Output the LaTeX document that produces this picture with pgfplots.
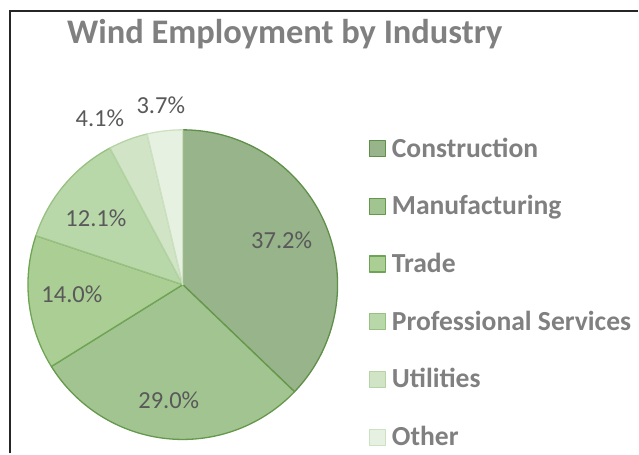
\documentclass[border=0pt]{standalone}
\usepackage{fontspec}
\setmainfont{Carlito}
\usepackage{pgfplots}
\pgfplotsset{compat=1.18}
\definecolor{fCon}{HTML}{97B48A}
\definecolor{fMan}{HTML}{A2C491}
\definecolor{fTra}{HTML}{AACE94}
\definecolor{fPro}{HTML}{B9D8AA}
\definecolor{fUti}{HTML}{D1E5C6}
\definecolor{fOth}{HTML}{E7F1E1}
\definecolor{eCon}{HTML}{5F8F48}
\definecolor{eMan}{HTML}{66984C}
\definecolor{eTra}{HTML}{6FA454}
\definecolor{ePro}{HTML}{98C080}
\definecolor{eUti}{HTML}{B5D3A5}
\definecolor{eOth}{HTML}{CCE1C1}
\definecolor{titlegray}{HTML}{808080}
\definecolor{labgray}{HTML}{595959}
\begin{document}
\begin{tikzpicture}
\begin{axis}[
  width=639pt, height=454pt, scale only axis,
  xmin=0, xmax=639, ymin=0, ymax=454,
  hide axis, clip=false,
  slice/.style={line width=1.3pt, line join=round, samples=120},
  legend image code/.code={\draw[#1, line width=1.2pt] (0pt,-6pt) rectangle (16pt,10pt);},
  legend style={at={(axis cs:369,316)}, anchor=north west, draw=none, fill=none,
    inner sep=0pt, row sep=32.8pt, column sep=6pt,
    font=\fontsize{27.6}{32}\selectfont\bfseries\color{titlegray},
    nodes={inner sep=0pt, text height=19pt, text depth=6pt}},
  legend cell align=left,
]
\path (axis cs:0,0) rectangle (axis cs:639,454);
% pie slices: percentages 37.2, 29.0, 14.0, 12.1, 4.1, 3.7 (sum 100.1)
\addplot[slice, fill=fCon, draw=eCon, domain=90-3.596404*37.2:90-3.596404*0]
  ({183+155*cos(x)},{169+155*sin(x)}) -- (axis cs:183,169) -- cycle;
\addlegendentry{Construction}
\addplot[slice, fill=fMan, draw=eMan, domain=90-3.596404*66.2:90-3.596404*37.2]
  ({183+155*cos(x)},{169+155*sin(x)}) -- (axis cs:183,169) -- cycle;
\addlegendentry{Manufacturing}
\addplot[slice, fill=fTra, draw=eTra, domain=90-3.596404*80.2:90-3.596404*66.2]
  ({183+155*cos(x)},{169+155*sin(x)}) -- (axis cs:183,169) -- cycle;
\addlegendentry{Trade}
\addplot[slice, fill=fPro, draw=ePro, domain=90-3.596404*92.3:90-3.596404*80.2]
  ({183+155*cos(x)},{169+155*sin(x)}) -- (axis cs:183,169) -- cycle;
\addlegendentry{Professional Services}
\addplot[slice, fill=fUti, draw=eUti, domain=90-3.596404*96.4:90-3.596404*92.3]
  ({183+155*cos(x)},{169+155*sin(x)}) -- (axis cs:183,169) -- cycle;
\addlegendentry{Utilities}
\addplot[slice, fill=fOth, draw=eOth, domain=90-3.596404*100.1:90-3.596404*96.4]
  ({183+155*cos(x)},{169+155*sin(x)}) -- (axis cs:183,169) -- cycle;
\addlegendentry{Other}
% frame
\draw[line width=1.6pt, black!85] (axis cs:10,0) -- (axis cs:10,443);
\draw[line width=1.6pt, black!85] (axis cs:9.2,443) -- (axis cs:639,443);
% title
\node[anchor=base west, font=\fontsize{34.5}{41}\selectfont\bfseries, text=titlegray, inner sep=0pt]
  at (axis cs:67,410) {Wind Employment by Industry};
% data labels
\begin{scope}[every node/.style={anchor=base, inner sep=0pt, font=\fontsize{24.5}{28}\selectfont, text=labgray}]
\node at (axis cs:282,205) {37.2\%};
\node at (axis cs:169,45) {29.0\%};
\node at (axis cs:72,151) {14.0\%};
\node at (axis cs:96,227) {12.1\%};
\node at (axis cs:100,327) {4.1\%};
\node at (axis cs:161,340) {3.7\%};
\end{scope}
\end{axis}
\end{tikzpicture}
\end{document}
